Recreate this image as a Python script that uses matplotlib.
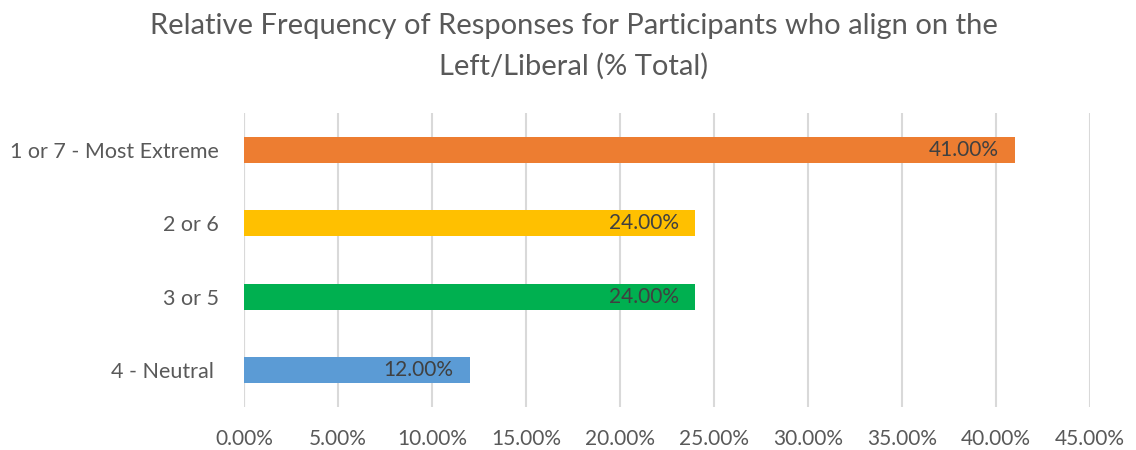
import matplotlib
matplotlib.use("Agg")
import matplotlib.pyplot as plt
import matplotlib.ticker as mticker

plt.rcParams["font.family"] = ["Lato", "DejaVu Sans"]

CATEGORIES = ["1 or 7 - Most Extreme", "2 or 6", "3 or 5", "4 - Neutral "]
SHARES = [41.0, 24.0, 24.0, 12.0]
BAR_COLORS = ["#ED7D31", "#FFC000", "#00B050", "#5B9BD5"]
X_TICKS = [0, 5, 10, 15, 20, 25, 30, 35, 40, 45]

TEXT_GRAY = "#595959"
LABEL_DARK = "#404040"

fig = plt.figure(figsize=(11.36, 4.5), dpi=100)
ax = fig.add_axes([0.2148, 0.0956, 0.7447, 0.6533])

ypos = list(range(len(CATEGORIES)))
bars = ax.barh(ypos, SHARES, height=0.35, color=BAR_COLORS, zorder=3)

for bar, val in zip(bars, SHARES):
    ax.text(bar.get_width() - 0.85, bar.get_y() + bar.get_height() / 2,
            f"{val:.2f}%", ha="right", va="center", fontsize=15,
            color=LABEL_DARK, zorder=4)

ax.set_xlim(0, 45)
ax.set_ylim(len(CATEGORIES) - 0.5, -0.5)
ax.set_xticks(X_TICKS)
ax.xaxis.set_major_formatter(mticker.FuncFormatter(lambda v, _: f"{v:.2f}%"))
ax.set_yticks(ypos)
ax.set_yticklabels(CATEGORIES)

ax.grid(axis="x", color="#D9D9D9", linewidth=1.5, zorder=0)
for side in ("top", "right", "bottom", "left"):
    ax.spines[side].set_visible(False)
ax.axvline(0, color="#D9D9D9", linewidth=1.5, zorder=1)

ax.tick_params(axis="x", length=0, pad=16, labelsize=15, labelcolor=TEXT_GRAY)
ax.tick_params(axis="y", length=0, pad=18, labelsize=15.5, labelcolor=TEXT_GRAY)

fig.text(0.505, 0.943, "Relative Frequency of Responses for Participants who align on the",
         ha="center", va="center", fontsize=21, color=TEXT_GRAY)
fig.text(0.505, 0.853, "Left/Liberal (% Total)",
         ha="center", va="center", fontsize=21, color=TEXT_GRAY)

fig.savefig("out.png", dpi=100, facecolor="white")
